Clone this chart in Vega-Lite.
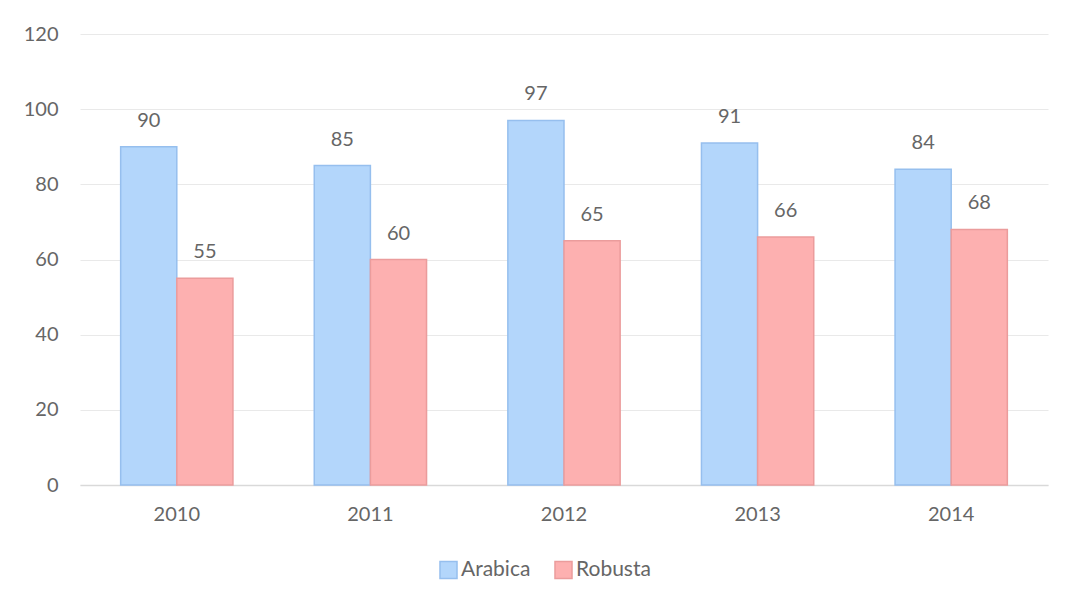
{
  "$schema": "https://vega.github.io/schema/vega-lite/v6.json",
  "width": 968,
  "height": 451,
  "autosize": {"type": "none"},
  "padding": {"left": 80, "top": 34, "right": 29, "bottom": 122},
  "background": "white",
  "config": {
    "view": {"stroke": null},
    "font": "Lato",
    "text": {"font": "Lato"}
  },
  "data": {
    "values": [
      {"year": "2010", "type": "Arabica", "value": 90},
      {"year": "2010", "type": "Robusta", "value": 55},
      {"year": "2011", "type": "Arabica", "value": 85},
      {"year": "2011", "type": "Robusta", "value": 60},
      {"year": "2012", "type": "Arabica", "value": 97},
      {"year": "2012", "type": "Robusta", "value": 65},
      {"year": "2013", "type": "Arabica", "value": 91},
      {"year": "2013", "type": "Robusta", "value": 66},
      {"year": "2014", "type": "Arabica", "value": 84},
      {"year": "2014", "type": "Robusta", "value": 68}
    ]
  },
  "encoding": {
    "x": {
      "field": "year", "type": "nominal",
      "scale": {"paddingInner": 0.42, "paddingOuter": 0.21},
      "axis": {"title": null, "labelAngle": 0, "labelFontSize": 20, "labelColor": "#666666", "labelFont": "Lato", "ticks": false, "domainColor": "#d9d9d9", "domainWidth": 1.5, "labelPadding": 19}
    },
    "xOffset": {"field": "type", "type": "nominal", "scale": {"paddingInner": 0}},
    "y": {
      "field": "value", "type": "quantitative",
      "scale": {"domain": [0, 120]},
      "axis": {"title": null, "values": [0, 20, 40, 60, 80, 100, 120], "labelFontSize": 20, "labelColor": "#666666", "labelFont": "Lato", "ticks": false, "domain": false, "gridColor": "#e9e9e9", "gridWidth": 1.2, "labelPadding": 22}
    }
  },
  "layer": [
    {
      "mark": {"type": "bar", "strokeWidth": 1.5},
      "encoding": {
        "color": {
          "field": "type", "type": "nominal",
          "scale": {"domain": ["Arabica", "Robusta"], "range": ["#b3d6fb", "#fdb0b0"]},
          "legend": {"title": null, "orient": "none", "direction": "horizontal", "legendX": 358, "legendY": 525, "labelFontSize": 21, "labelColor": "#666666", "labelFont": "Lato", "symbolType": "square", "symbolSize": 290, "symbolStrokeWidth": 1.5, "columnPadding": 20, "labelOffset": 2}
        },
        "stroke": {
          "field": "type", "type": "nominal",
          "scale": {"domain": ["Arabica", "Robusta"], "range": ["#96bfee", "#eb9c9c"]},
          "legend": null
        }
      }
    },
    {
      "mark": {"type": "text", "dy": -26, "fontSize": 20, "color": "#666666", "font": "Lato"},
      "encoding": {"text": {"field": "value", "type": "quantitative"}}
    }
  ]
}
